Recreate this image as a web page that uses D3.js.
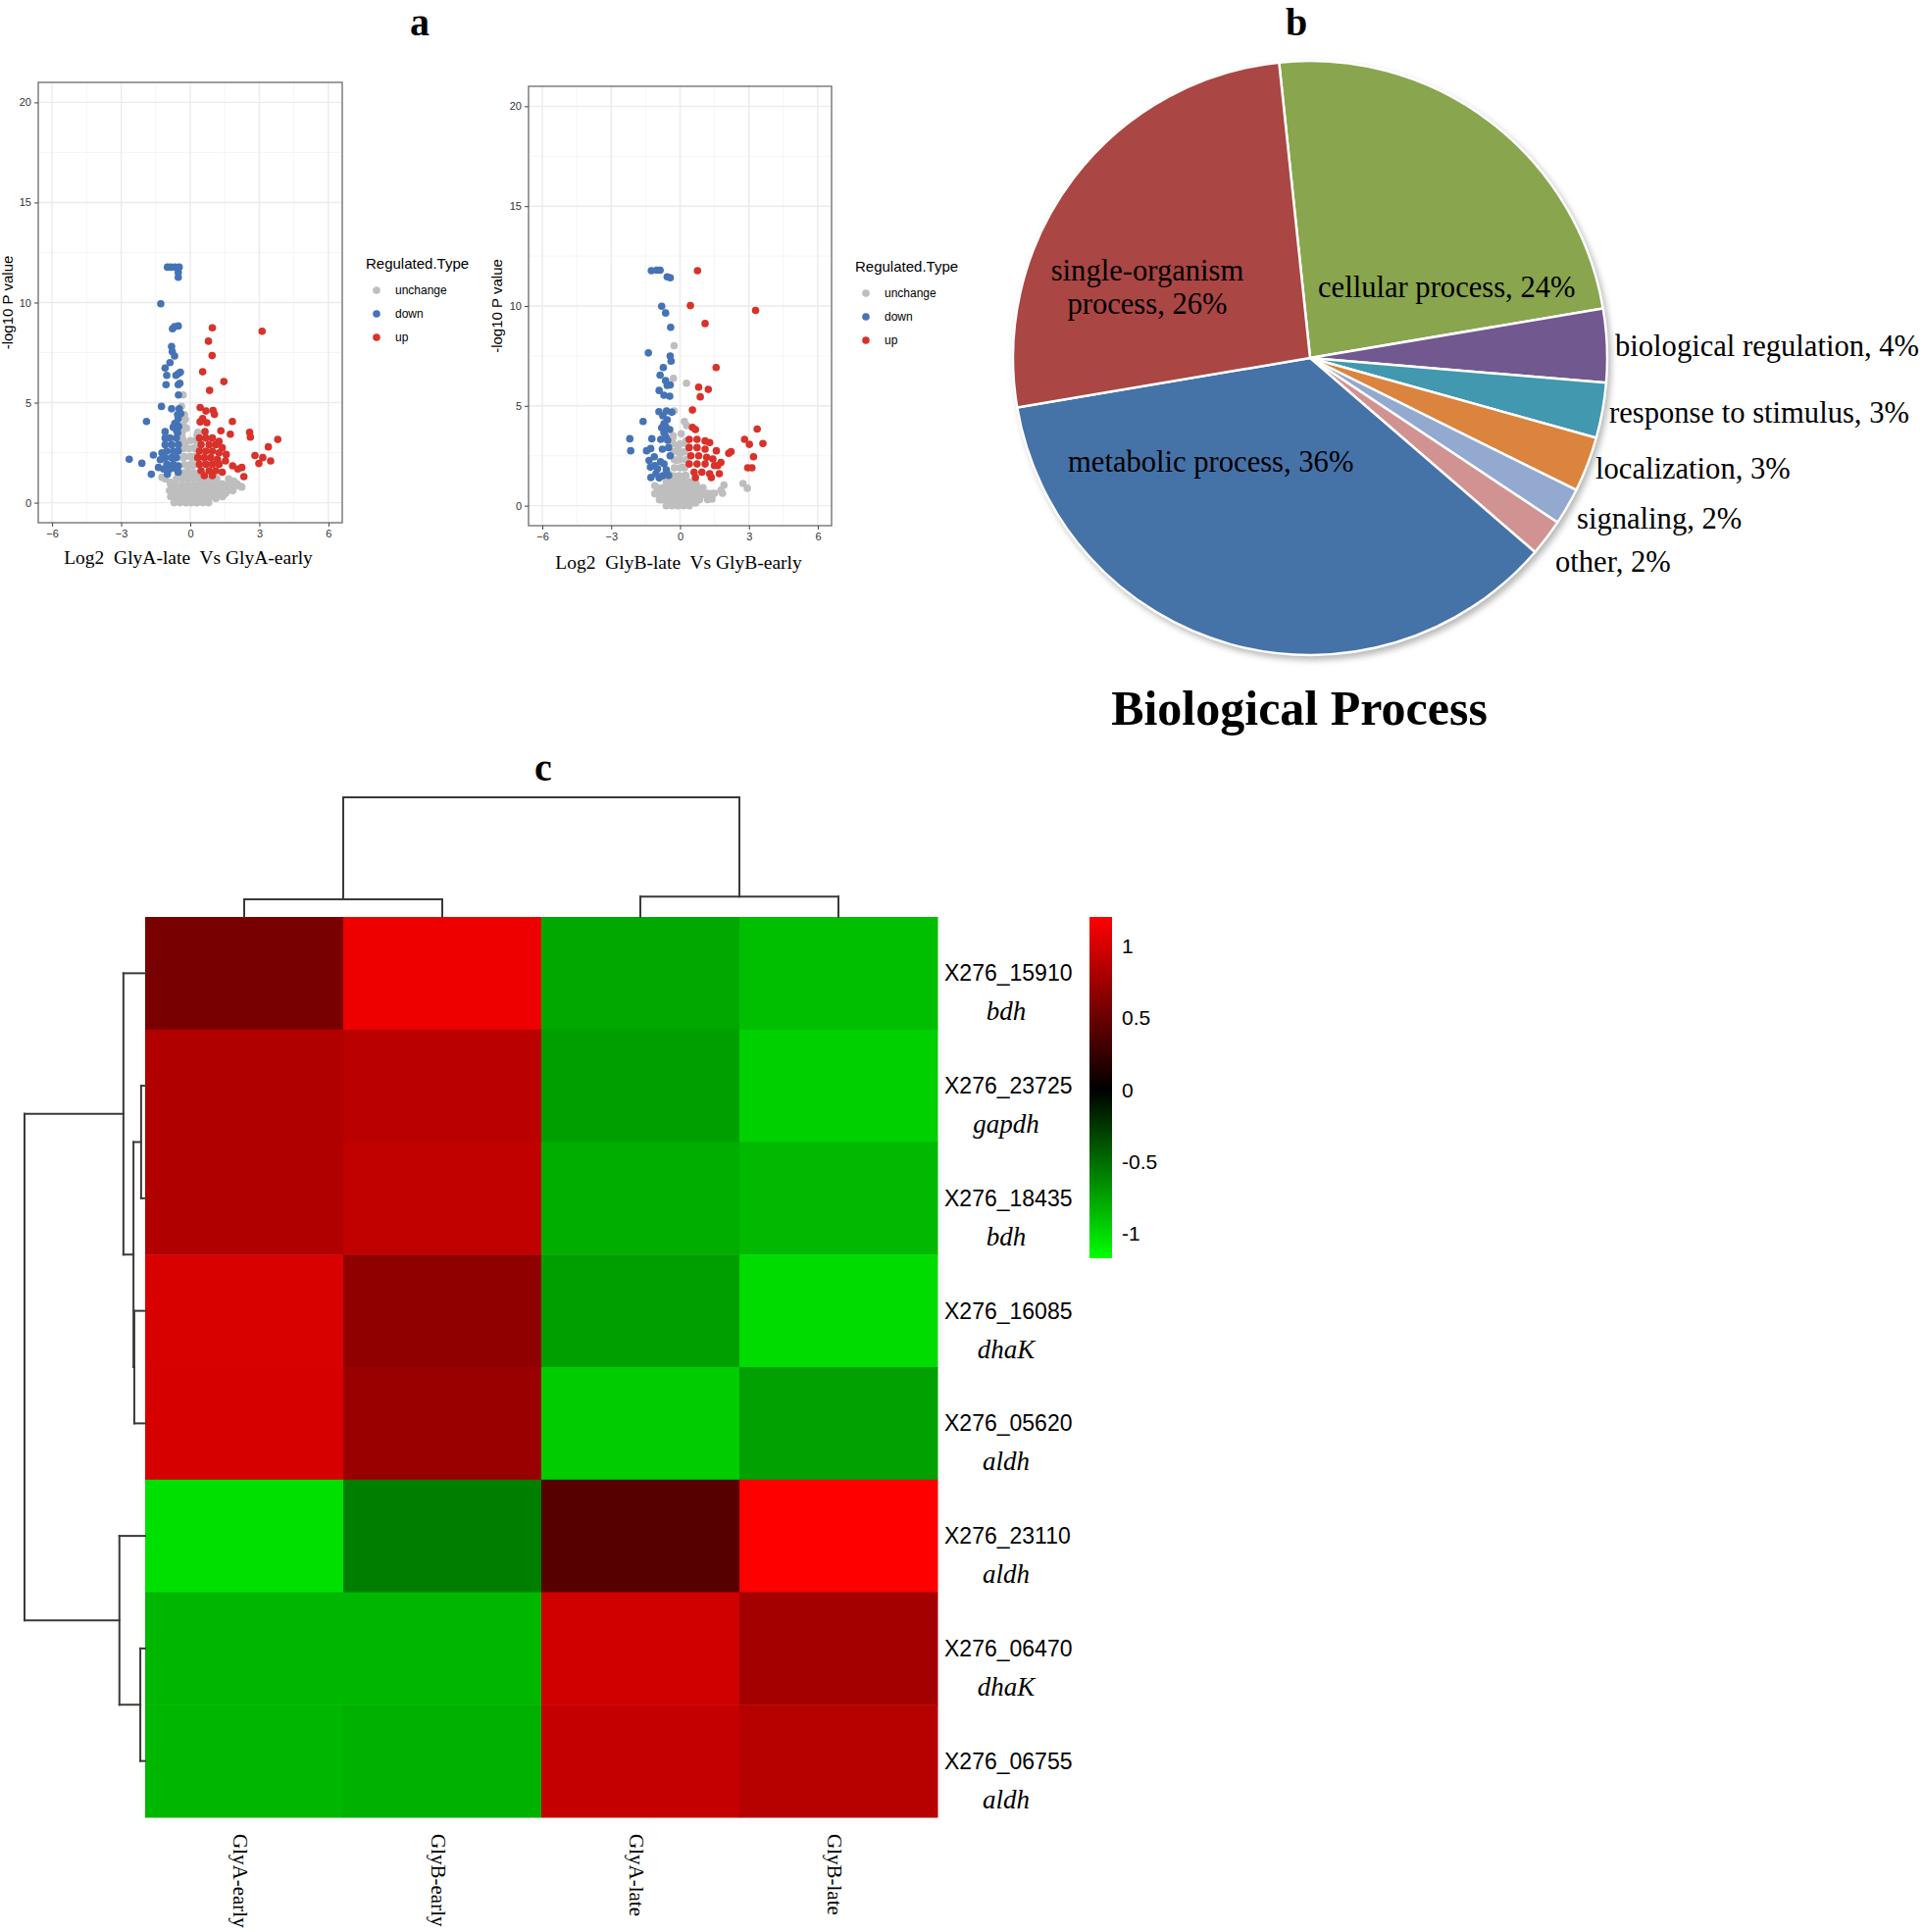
<!DOCTYPE html>
<html><head><meta charset="utf-8">
<script src="https://cdn.jsdelivr.net/npm/d3@7/dist/d3.min.js"></script>
<style>body{margin:0;background:#fff} text{white-space:pre}</style>
</head><body><svg id="c" width="1961" height="1970"></svg>
<script>
// ---------------- DATA ----------------
// Volcano plots: [log2 fold change, -log10 P]
const volcanoXTicks = [-6, -3, 0, 3, 6];
const volcanoYTicks = [0, 5, 10, 15, 20];
const regulatedTypes = ["unchange", "down", "up"];

const volcanoA_unchange = [[-0.31,5.38],[-0.38,4.82],[-0.21,4.17],[-0.17,3.72],[-0.34,3.23],[0.33,3.52],[0.26,3.15],[-0.38,2.74],[0.18,2.74],[-0.31,2.25],[0.11,2.25],[-0.1,1.76],[-1.23,1.27],[-1.09,1.19],[1.67,1.19],[1.89,1.08],[2.17,0.82],[-0.31,1.27],[0.26,1.27],[0.82,1.11],[1.39,0.95],[-0.74,0.78],[-0.31,0.78],[0.26,0.78],[0.82,0.7],[1.39,0.7],[1.67,0.62],[1.89,0.78],[-0.81,0.37],[-0.38,0.37],[0.11,0.37],[0.61,0.37],[1.11,0.46],[1.53,0.46],[-0.6,0.05],[-0.17,0.0],[0.26,0.0],[0.68,0.05],[1.11,0.21],[-0.88,1.03],[-0.52,1.43],[-0.03,1.43],[0.54,0.95],[1.04,0.86],[0.11,1.84],[-0.24,2.9],[2.03,0.95],[2.24,0.78],
[-0.7,0],[-0.45,0],[-0.2,0],[0.05,0],[0.3,0],[0.55,0],[0.8,0],
[-0.85,0.3],[-0.6,0.3],[-0.35,0.3],[-0.1,0.3],[0.15,0.3],[0.4,0.3],[0.65,0.3],[0.9,0.3],[1.15,0.3],[1.4,0.3],
[-0.9,0.6],[-0.65,0.6],[-0.4,0.6],[-0.15,0.6],[0.1,0.6],[0.35,0.6],[0.6,0.6],[0.85,0.6],[1.1,0.6],[1.35,0.6],[1.6,0.6],[1.85,0.6],
[-0.85,0.9],[-0.6,0.9],[-0.35,0.9],[-0.1,0.9],[0.15,0.9],[0.4,0.9],[0.65,0.9],[0.9,0.9],[1.15,0.9],[1.4,0.9],[1.65,0.9],
[-0.6,1.2],[-0.35,1.2],[-0.1,1.2],[0.15,1.2],[0.4,1.2],[0.65,1.2],[0.9,1.2],[1.15,1.2],
[-0.35,1.5],[-0.1,1.5],[0.15,1.5],[0.4,1.5],
[-0.25,1.9],[0.0,1.9],[0.2,1.9],[-0.25,2.3],[0.0,2.3],[0.2,2.3],[-0.3,2.7],[-0.05,2.7],[0.2,2.7],[-0.3,3.1],[0.0,3.1],[0.25,3.1],[-0.35,3.5],[0.3,3.4],[-0.3,3.9],[-0.25,4.4]];
const volcanoA_down = [[-0.99,11.77],[-0.85,11.77],[-0.67,11.77],[-0.48,11.77],[-0.52,11.5],[-0.52,11.26],[-1.28,9.94],[-0.77,8.69],[-0.68,8.8],[-0.52,8.83],[-0.81,7.81],[-0.78,7.55],[-0.68,7.33],[-0.88,7.0],[-1.09,6.73],[-0.43,6.52],[-1.02,6.36],[-0.62,6.36],[-0.52,6.45],[-1.05,5.9],[-0.52,5.9],[-0.45,5.97],[-0.51,5.38],[-1.25,4.81],[-0.81,4.69],[-0.48,4.69],[-0.41,4.45],[-0.52,4.2],[-1.9,4.06],[-0.67,3.96],[-0.74,3.77],[-1.09,3.55],[-0.6,3.63],[-0.55,4.4],[-0.6,4.0],[-0.5,3.8],[-0.55,3.5],[-1.09,3.23],[-0.88,3.23],[-0.6,3.23],[-1.09,2.9],[-0.81,2.9],[-0.52,2.9],[-1.02,2.58],[-0.74,2.58],[-0.52,2.58],[-1.09,2.25],[-0.81,2.25],[-0.6,2.25],[-1.02,1.92],[-0.74,1.92],[-0.52,1.84],[-1.16,1.68],[-0.88,1.68],[-0.6,1.68],[-0.99,1.43],[-0.52,1.52],[-2.65,2.17],[-2.1,1.97],[-1.6,2.38],[-1.69,1.42],[-1.3,2.15],[-1.38,1.76],[-1.23,2.49]];
const volcanoA_up = [[0.96,8.74],[3.12,8.57],[0.79,8.07],[0.95,7.35],[0.54,6.54],[1.46,6.05],[0.84,5.61],[0.43,4.76],[0.68,4.58],[0.99,4.61],[1.05,4.42],[0.54,4.2],[0.72,4.0],[0.43,4.04],[1.83,4.06],[0.64,3.55],[1.33,3.59],[1.74,3.42],[2.58,3.52],[2.61,3.28],[3.8,3.16],[3.39,2.79],[2.81,2.36],[3.15,2.25],[3.49,2.09],[2.98,1.96],[1.84,1.84],[2.24,1.76],[2.07,1.68],[2.33,1.3],[1.56,2.41],[0.4,3.23],[0.68,3.23],[0.96,3.23],[1.25,3.06],[0.47,2.9],[0.82,2.9],[1.11,2.9],[1.39,2.74],[0.4,2.58],[0.68,2.58],[0.96,2.58],[1.25,2.49],[0.33,2.25],[0.61,2.25],[0.89,2.25],[1.18,2.17],[0.4,1.92],[0.68,1.92],[0.96,1.92],[1.25,1.92],[0.47,1.6],[0.82,1.6],[1.11,1.6],[0.61,1.35],[0.96,1.35],[1.39,1.52],[1.53,2.09]];

const volcanoB_unchange = [[-0.26,8.01],[-0.29,6.38],[0.28,6.13],[-0.26,4.74],[0.19,4.22],[0.29,4.01],[-0.32,3.4],[-0.08,2.91],[0.26,3.24],[-0.15,2.26],[0.12,1.93],[1.91,1.03],[1.85,0.62],[1.39,0.33],[2.74,1.11],[2.93,0.87],[1.78,0.78],[1.23,0.62],[-0.98,0.62],[-0.7,0.87],[-0.29,1.11],[0.12,1.19],[0.54,0.95],[0.95,0.78],[-0.84,0.29],[-0.43,0.46],[-0.01,0.54],[0.4,0.46],[0.81,0.29],[-0.56,0.05],[-0.15,0.05],[0.26,0.05],[0.67,0.13],[-0.15,1.44],[0.26,1.52],[-0.5,1.6],[-0.01,2.58],[1.09,0.54],[1.5,0.62],[-1.1,1.0],[0.3,0.9],[-0.4,1.3],[0.7,1.1],[1.2,0.3],
[-0.6,0],[-0.35,0],[-0.1,0],[0.15,0],[0.4,0],
[-0.9,0.3],[-0.65,0.3],[-0.4,0.3],[-0.15,0.3],[0.1,0.3],[0.35,0.3],[0.6,0.3],[0.85,0.3],
[-1.1,0.6],[-0.85,0.6],[-0.6,0.6],[-0.35,0.6],[-0.1,0.6],[0.15,0.6],[0.4,0.6],[0.65,0.6],[0.9,0.6],[1.15,0.6],[1.4,0.6],
[-1.0,0.9],[-0.75,0.9],[-0.5,0.9],[-0.25,0.9],[0.0,0.9],[0.25,0.9],[0.5,0.9],[0.75,0.9],[1.0,0.9],
[-0.6,1.2],[-0.35,1.2],[-0.1,1.2],[0.15,1.2],[0.4,1.2],[0.65,1.2],
[-0.3,1.5],[-0.05,1.5],[0.2,1.5],
[-0.25,1.9],[0.0,1.9],[0.2,1.9],[-0.25,2.3],[0.0,2.3],[0.25,2.3],[-0.3,2.7],[-0.05,2.7],[0.2,2.7],[-0.3,3.1],[0.0,3.1],[0.25,3.1],[-0.3,3.5],[0.05,3.6]];
const volcanoB_down = [[-1.25,11.77],[-1.02,11.79],[-0.87,11.79],[-0.56,11.46],[-0.43,11.41],[-0.8,9.99],[-0.63,9.65],[-0.41,8.93],[-1.38,7.65],[-0.43,7.49],[-0.39,7.24],[-0.73,6.92],[-0.87,6.54],[-0.63,6.26],[-0.43,6.05],[-0.56,6.02],[-0.91,5.77],[-0.7,5.53],[-0.45,5.48],[-0.92,4.71],[-0.59,4.74],[-0.36,4.68],[-1.61,4.22],[-0.56,4.3],[-0.63,3.97],[-0.45,3.81],[-0.7,3.65],[-0.75,4.5],[-0.7,4.1],[-0.8,3.9],[-0.62,3.45],[-2.19,3.35],[-1.23,3.35],[-2.15,2.75],[-1.46,2.75],[-1.28,2.86],[-1.12,2.45],[-1.35,2.26],[-1.29,1.93],[-1.27,1.41],[-0.91,1.39],[-0.5,1.52],[-0.98,1.85],[-0.7,2.09],[-0.43,2.5],[-0.77,2.83],[-0.5,2.91],[-0.84,3.32],[-0.54,3.27],[-1.1,2.0],[-0.85,2.2],[-0.6,1.8],[-1.05,1.6],[-0.75,1.5]];
const volcanoB_up = [[0.76,11.77],[0.45,10.02],[3.29,9.78],[1.09,9.12],[1.57,6.92],[0.81,5.94],[1.23,5.82],[0.88,5.45],[0.54,4.79],[0.54,3.92],[0.67,3.81],[3.36,3.84],[2.81,3.32],[3.02,3.07],[3.61,3.11],[3.2,2.45],[2.95,1.9],[3.13,1.9],[2.12,2.62],[2.22,2.71],[1.58,2.75],[1.78,2.17],[1.71,1.6],[0.4,3.32],[0.74,3.32],[1.09,3.24],[1.29,3.16],[0.4,2.91],[0.74,2.91],[1.09,2.83],[0.47,2.5],[0.81,2.5],[1.16,2.42],[1.43,2.34],[0.4,2.09],[0.74,2.09],[1.09,2.09],[1.5,2.01],[0.61,1.68],[0.95,1.68],[1.29,1.6],[0.67,1.41],[1.36,1.41],[1.64,2.01]];

// Pie chart (Biological Process, %)
const pieCategories = ["cellular process","biological regulation","response to stimulus","localization","signaling","other","metabolic process","single-organism process"];
const pieValues = [24, 4, 3, 3, 2, 2, 36, 26];

// Heatmap
const heatCols = ["GlyA-early","GlyB-early","GlyA-late","GlyB-late"];
const heatRowIds = ["X276_15910","X276_23725","X276_18435","X276_16085","X276_05620","X276_23110","X276_06470","X276_06755"];
const heatRowGenes = ["bdh","gapdh","bdh","dhaK","aldh","aldh","dhaK","aldh"];
const heatValues = [
  [0.57, 1.12, -0.77, -0.87],
  [0.83, 0.88, -0.73, -0.95],
  [0.83, 0.91, -0.80, -0.85],
  [1.02, 0.68, -0.73, -1.01],
  [1.01, 0.73, -0.94, -0.74],
  [-1.03, -0.58, 0.41, 1.20],
  [-0.84, -0.84, 0.98, 0.77],
  [-0.84, -0.81, 0.92, 0.86]];
const heatLegendTicks = [-1, -0.5, 0, 0.5, 1];
const heatRange = [-1.17, 1.2];
// dendrograms: merge heights, leaves are row/col indices
const rowTree = {h:3.0, c:[{h:0.54, c:[0, {h:0.29, c:[{h:0.10, c:[1,2]}, {h:0.27, c:[3,4]}]}]}, {h:0.64, c:[5, {h:0.12, c:[6,7]}]}]};
const colTree = {h:3.0, c:[{h:0.44, c:[0,1]}, {h:0.51, c:[2,3]}]};

// ---------------- DRAWING ----------------
const svg = d3.select("#c");
svg.append("rect").attr("width",1961).attr("height",1970).attr("fill","#fff");
const SANS = "'Liberation Sans', Arial, sans-serif";
const SERIF = "'Liberation Serif', 'Times New Roman', serif";
const typeColor = {unchange:"#BEBEBE", down:"#4573B5", up:"#D8322A"};

function volcano(cfg){
  const x = d3.scaleLinear().domain([-6.6,6.6]).range([cfg.L,cfg.R]);
  const y = d3.scaleLinear().domain([-1,21]).range([cfg.B,cfg.T]);
  const g = svg.append("g");
  const minorX = volcanoXTicks.slice(0,-1).map((d,i)=>(d+volcanoXTicks[i+1])/2);
  const minorY = volcanoYTicks.slice(0,-1).map((d,i)=>(d+volcanoYTicks[i+1])/2);
  g.selectAll(".mx").data(minorX).join("line").attr("x1",d=>x(d)).attr("x2",d=>x(d)).attr("y1",cfg.T).attr("y2",cfg.B).attr("stroke","#F2F2F2").attr("stroke-width",0.8);
  g.selectAll(".my").data(minorY).join("line").attr("y1",d=>y(d)).attr("y2",d=>y(d)).attr("x1",cfg.L).attr("x2",cfg.R).attr("stroke","#F2F2F2").attr("stroke-width",0.8);
  g.selectAll(".Mx").data(volcanoXTicks).join("line").attr("x1",d=>x(d)).attr("x2",d=>x(d)).attr("y1",cfg.T).attr("y2",cfg.B).attr("stroke","#EBEBEB").attr("stroke-width",1.4);
  g.selectAll(".My").data(volcanoYTicks).join("line").attr("y1",d=>y(d)).attr("y2",d=>y(d)).attr("x1",cfg.L).attr("x2",cfg.R).attr("stroke","#EBEBEB").attr("stroke-width",1.4);
  [["unchange",cfg.unchange],["down",cfg.down],["up",cfg.up]].forEach(([t,arr])=>{
    g.selectAll(null).data(arr).join("circle").attr("cx",d=>x(d[0])).attr("cy",d=>y(d[1])).attr("r",3.8).attr("fill",typeColor[t]);
  });
  g.append("rect").attr("x",cfg.L).attr("y",cfg.T).attr("width",cfg.R-cfg.L).attr("height",cfg.B-cfg.T).attr("fill","none").attr("stroke","#6a6a6a").attr("stroke-width",1.3);
  const ax = g.append("g").attr("transform",`translate(0,${cfg.B})`).call(d3.axisBottom(x).tickValues(volcanoXTicks).tickSize(4).tickPadding(3));
  const ay = g.append("g").attr("transform",`translate(${cfg.L},0)`).call(d3.axisLeft(y).tickValues(volcanoYTicks).tickSize(4).tickPadding(3));
  [ax,ay].forEach(a=>{a.select(".domain").remove(); a.selectAll("line").attr("stroke","#444");
    a.selectAll("text").attr("font-family",SANS).attr("font-size",11).attr("fill","#333");});
  g.append("text").attr("transform",`translate(${cfg.ytx},${(cfg.T+cfg.B)/2}) rotate(-90)`).attr("text-anchor","middle").attr("dy","0.35em")
    .attr("font-family",SANS).attr("font-size",15).text("-log10 P value");
  g.append("text").attr("x",cfg.xtx).attr("y",cfg.xty).attr("text-anchor","middle").attr("font-family",SERIF).attr("font-size",19.5).text(cfg.xTitle);
  g.append("text").attr("x",cfg.lgx).attr("y",cfg.lgy).attr("font-family",SANS).attr("font-size",15).text("Regulated.Type");
  regulatedTypes.forEach((t,i)=>{
    const yy = cfg.lgy+22+i*24;
    g.append("circle").attr("cx",cfg.lgx+11).attr("cy",yy).attr("r",3.8).attr("fill",typeColor[t]);
    g.append("text").attr("x",cfg.lgx+30).attr("y",yy).attr("dy","0.35em").attr("font-family",SANS).attr("font-size",12).text(t);
  });
}
volcano({L:39,R:349,T:84,B:533,unchange:volcanoA_unchange,down:volcanoA_down,up:volcanoA_up,
  ytx:8,xtx:192,xty:575,xTitle:"Log2  GlyA-late  Vs GlyA-early",lgx:373,lgy:274});
volcano({L:539,R:848,T:88,B:536,unchange:volcanoB_unchange,down:volcanoB_down,up:volcanoB_up,
  ytx:507,xtx:692,xty:580,xTitle:"Log2  GlyB-late  Vs GlyB-early",lgx:872,lgy:277});

[["a",428,36],["b",1322,36],["c",554,796]].forEach(([t,xx,yy])=>{
  svg.append("text").attr("x",xx).attr("y",yy).attr("text-anchor","middle").attr("font-family",SERIF).attr("font-weight","bold").attr("font-size",40).text(t);
});

// ---- Pie ----
const pieColors = ["#89A54E","#71588F","#4198AF","#DB843D","#93A9CF","#D19392","#4572A7","#AA4643"];
const pc = {x:1336, y:365, r:303};
const defs = svg.append("defs");
defs.append("filter").attr("id","blur").append("feGaussianBlur").attr("stdDeviation",3);
svg.append("circle").attr("cx",pc.x+3).attr("cy",pc.y+4).attr("r",pc.r+1).attr("fill","#9a9a9a").attr("filter","url(#blur)").attr("opacity",0.7);
const a0 = -6*Math.PI/180;
const pieGen = d3.pie().sort(null).value(d=>d).startAngle(a0).endAngle(a0+2*Math.PI);
const arcGen = d3.arc().innerRadius(0).outerRadius(pc.r);
const pg = svg.append("g").attr("transform",`translate(${pc.x},${pc.y})`);
pg.selectAll("path").data(pieGen(pieValues)).join("path").attr("d",arcGen).attr("fill",(d,i)=>pieColors[i]).attr("stroke","#fff").attr("stroke-width",2.5).attr("stroke-linejoin","round");
const pieLabelLayout = [
  {x:1344,y:303,anchor:"start"},
  {x:1647,y:363,anchor:"start"},
  {x:1641,y:431,anchor:"start"},
  {x:1627,y:488,anchor:"start"},
  {x:1608,y:539,anchor:"start"},
  {x:1586,y:583,anchor:"start"},
  {x:1089,y:481,anchor:"start"},
  {x:1170,y:286,anchor:"middle",wrap:true}
];
pieCategories.forEach((name,i)=>{
  const lay = pieLabelLayout[i];
  const label = `${name}, ${pieValues[i]}%`;
  const t = svg.append("text").attr("x",lay.x).attr("y",lay.y).attr("text-anchor",lay.anchor).attr("font-family",SERIF).attr("font-size",30.6).attr("fill","#000");
  if(lay.wrap){
    const k = label.indexOf(" ");
    t.append("tspan").attr("x",lay.x).text(label.slice(0,k));
    t.append("tspan").attr("x",lay.x).attr("dy",34).text(label.slice(k+1));
  } else t.text(label);
});
svg.append("text").attr("x",1325).attr("y",739).attr("text-anchor","middle").attr("font-family",SERIF).attr("font-weight","bold").attr("font-size",50).text("Biological Process");

// ---- Heatmap ----
const hx = d3.scaleBand().domain(d3.range(heatCols.length)).range([148,956]);
const hy = d3.scaleBand().domain(d3.range(heatRowIds.length)).range([935,1853]);
const hcol = d3.scaleLinear().domain([heatRange[0],0,heatRange[1]]).range(["#00ff00","#000000","#ff0000"]);
const hg = svg.append("g");
heatValues.forEach((row,i)=>row.forEach((v,j)=>{
  hg.append("rect").attr("x",hx(j)).attr("y",hy(i)).attr("width",hx.bandwidth()+0.5).attr("height",hy.bandwidth()+0.5).attr("fill",hcol(v));
}));
heatRowIds.forEach((id,i)=>{
  const cy = hy(i)+hy.bandwidth()/2;
  hg.append("text").attr("x",963).attr("y",cy).attr("dy","0.35em").attr("font-family",SANS).attr("font-size",23).text(id);
  hg.append("text").attr("x",1026).attr("y",cy+48).attr("text-anchor","middle").attr("font-family",SERIF).attr("font-style","italic").attr("font-size",27).text(heatRowGenes[i]);
});
heatCols.forEach((c,j)=>{
  const cx = hx(j)+hx.bandwidth()/2-4;
  hg.append("text").attr("transform",`translate(${cx},1870) rotate(90)`).attr("dy","0.35em").attr("font-family",SERIF).attr("font-size",21).text(c);
});
function dendro(tree, leafPos, hScale, horizontal){
  const lines = [];
  function walk(n){
    if(typeof n === "number") return {p:leafPos(n), h:0};
    const kids = n.c.map(walk);
    const p = d3.mean(kids,k=>k.p);
    kids.forEach(k=>lines.push([k.p,k.h,k.p,n.h]));
    lines.push([kids[0].p,n.h,kids[kids.length-1].p,n.h]);
    return {p, h:n.h};
  }
  walk(tree);
  svg.append("g").selectAll("line").data(lines).join("line")
    .attr(horizontal?"y1":"x1",d=>d[0]).attr(horizontal?"x1":"y1",d=>hScale(d[1]))
    .attr(horizontal?"y2":"x2",d=>d[2]).attr(horizontal?"x2":"y2",d=>hScale(d[3]))
    .attr("stroke","#3a3a3a").attr("stroke-width",2).attr("stroke-linecap","square");
}
dendro(rowTree, i=>hy(i)+hy.bandwidth()/2, d3.scaleLinear().domain([0,3]).range([148,25]), true);
dendro(colTree, j=>hx(j)+hx.bandwidth()/2, d3.scaleLinear().domain([0,3]).range([935,813]), false);

const lby = d3.scaleLinear().domain(heatRange).range([1283,935]);
const grad = defs.append("linearGradient").attr("id","hgrad").attr("x1",0).attr("y1",1).attr("x2",0).attr("y2",0);
[heatRange[0],0,heatRange[1]].forEach(v=>grad.append("stop").attr("offset",(v-heatRange[0])/(heatRange[1]-heatRange[0])).attr("stop-color",hcol(v)));
svg.append("rect").attr("x",1111).attr("y",lby(heatRange[1])).attr("width",23).attr("height",lby(heatRange[0])-lby(heatRange[1])).attr("fill","url(#hgrad)");
heatLegendTicks.forEach(t=>{
  svg.append("text").attr("x",1144).attr("y",lby(t)).attr("dy","0.35em").attr("font-family",SANS).attr("font-size",21).text(String(t));
});
</script></body></html>
